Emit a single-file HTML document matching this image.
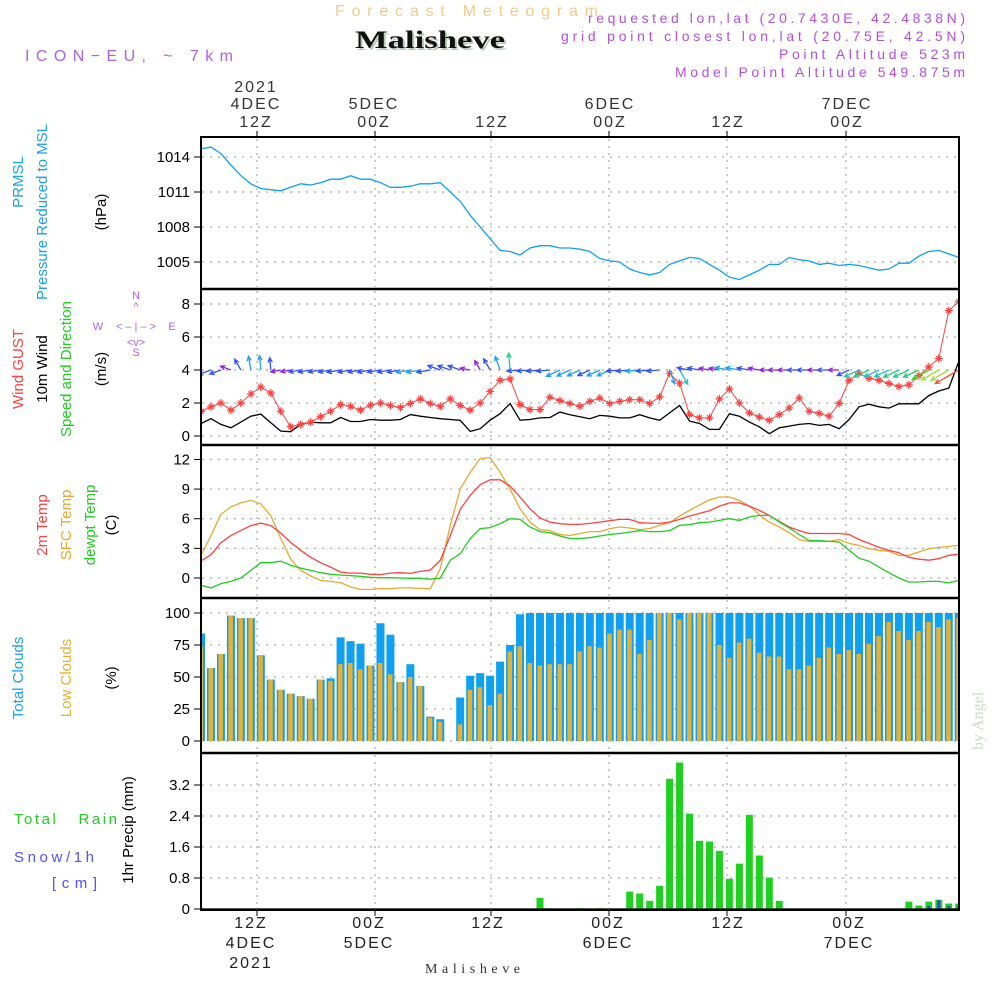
<!DOCTYPE html>
<html><head><meta charset="utf-8"><title>Meteogram Malisheve</title>
<style>
html,body{margin:0;padding:0;background:#fff;}
svg{display:block;font-family:"Liberation Sans",sans-serif;}
</style></head>
<body>
<svg id="chart" width="1000" height="1000" viewBox="0 0 1000 1000" xmlns="http://www.w3.org/2000/svg">
<defs>
<clipPath id="clipAll"><rect x="201" y="137" width="758" height="773"/></clipPath>
</defs>
<rect x="0" y="0" width="1000" height="1000" fill="#fff"/>
<text x="335" y="16" textLength="263" lengthAdjust="spacing" font-size="16" fill="#f2c98a">Forecast Meteogram</text>
<text x="357" y="50" textLength="150" lengthAdjust="spacingAndGlyphs" font-size="25" font-weight="bold" font-family="Liberation Serif, serif" fill="#b8cbb8">Malisheve</text>
<text x="355" y="48" textLength="150" lengthAdjust="spacingAndGlyphs" font-size="25" font-weight="bold" font-family="Liberation Serif, serif" fill="#111">Malisheve</text>
<text x="25" y="61" textLength="208" lengthAdjust="spacing" font-size="16" fill="#b060e8">ICON−EU, ~ 7km</text>
<g font-size="14" fill="#b050e0">
<text x="588" y="23" textLength="377" lengthAdjust="spacing">requested lon,lat (20.7430E, 42.4838N)</text>
<text x="561" y="41" textLength="404" lengthAdjust="spacing">grid point closest lon,lat (20.75E, 42.5N)</text>
<text x="779" y="59" textLength="186" lengthAdjust="spacing">Point Altitude 523m</text>
<text x="675" y="77" textLength="290" lengthAdjust="spacing">Model Point Altitude 549.875m</text>
</g>
<g font-size="16" fill="#333" text-anchor="middle" letter-spacing="2">
<text x="256" y="92">2021</text><text x="256" y="109">4DEC</text><text x="256" y="127">12Z</text>
<text x="374" y="109">5DEC</text><text x="374" y="127">00Z</text>
<text x="492" y="127">12Z</text>
<text x="610" y="109">6DEC</text><text x="610" y="127">00Z</text>
<text x="728" y="127">12Z</text>
<text x="847" y="109">7DEC</text><text x="847" y="127">00Z</text>
</g>
<g font-size="16" fill="#222" text-anchor="middle" letter-spacing="2">
<text x="251" y="928">12Z</text><text x="251" y="948">4DEC</text><text x="251" y="968">2021</text>
<text x="369" y="928">00Z</text><text x="369" y="948">5DEC</text>
<text x="488" y="928">12Z</text>
<text x="608" y="928">00Z</text><text x="608" y="948">6DEC</text>
<text x="728" y="928">12Z</text>
<text x="849" y="928">00Z</text><text x="849" y="948">7DEC</text>
</g>
<text x="425" y="973" textLength="95" lengthAdjust="spacing" font-size="14" font-family="Liberation Serif, serif" fill="#333">Malisheve</text>
<text transform="translate(983,750) rotate(-90)" font-size="16" font-family="Liberation Serif, serif" fill="#ccd8cc">by Angel</text>

<g font-size="15">
<text transform="translate(23,182) rotate(-90)" text-anchor="middle" fill="#1aa0f0">PRMSL</text>
<text transform="translate(47,212) rotate(-90)" text-anchor="middle" fill="#1aa0f0">Pressure Reduced to MSL</text>
<text transform="translate(106,212) rotate(-90)" text-anchor="middle" fill="#000">(hPa)</text>
<text transform="translate(23,369) rotate(-90)" text-anchor="middle" fill="#ff4040">Wind GUST</text>
<text transform="translate(47,369) rotate(-90)" text-anchor="middle" fill="#000">10m Wind</text>
<text transform="translate(71,369) rotate(-90)" text-anchor="middle" fill="#22cc22">Speed and Direction</text>
<text transform="translate(106,369) rotate(-90)" text-anchor="middle" fill="#000">(m/s)</text>
<g font-size="11" fill="#b060e8" text-anchor="middle">
<text x="136" y="299">N</text><text x="136" y="310">^</text><text x="136" y="330">&lt; – | – &gt;</text>
<text x="98" y="330">W</text><text x="172" y="330">E</text><text x="136" y="346">&lt;v&gt;</text><text x="136" y="356">S</text>
</g>
<text transform="translate(47,525) rotate(-90)" text-anchor="middle" fill="#ff4040">2m Temp</text>
<text transform="translate(71,525) rotate(-90)" text-anchor="middle" fill="#e8a830">SFC Temp</text>
<text transform="translate(95,525) rotate(-90)" text-anchor="middle" fill="#22cc22">dewpt Temp</text>
<text transform="translate(116,525) rotate(-90)" text-anchor="middle" fill="#000">(C)</text>
<text transform="translate(23,678) rotate(-90)" text-anchor="middle" fill="#1aa0f0">Total Clouds</text>
<text transform="translate(71,678) rotate(-90)" text-anchor="middle" fill="#e8b030">Low Clouds</text>
<text transform="translate(116,678) rotate(-90)" text-anchor="middle" fill="#000">(%)</text>
<text x="14" y="824" textLength="103" lengthAdjust="spacing" fill="#22cc22">Total&#160;&#160; Rain</text>
<text x="14" y="862" textLength="80" lengthAdjust="spacing" fill="#5050ff">Snow/1h</text>
<text x="52" y="888" textLength="45" lengthAdjust="spacing" fill="#5050ff">[cm]</text>
<text transform="translate(133,830) rotate(-90)" text-anchor="middle" fill="#000">1hr Precip (mm)</text>
</g>

<g id="grid"></g>
<g id="marks" clip-path="url(#clipAll)"></g>
<g id="frames"></g>
<g id="ticks" font-size="15" fill="#000" text-anchor="end"></g>
</svg>
<script>
const pressure=[1014.7,1014.85,1014.3,1013.3,1012.4,1011.7,1011.3,1011.2,1011.1,1011.4,1011.7,1011.6,1011.8,1012.1,1012.1,1012.4,1012.1,1012.1,1011.8,1011.4,1011.4,1011.5,1011.7,1011.7,1011.8,1011.0,1010.2,1009.0,1008.0,1007.0,1006.0,1005.9,1005.6,1006.2,1006.4,1006.4,1006.2,1006.2,1006.1,1005.9,1005.3,1005.1,1005.0,1004.4,1004.1,1003.9,1004.1,1004.8,1005.1,1005.4,1005.3,1004.8,1004.3,1003.7,1003.5,1003.9,1004.3,1004.8,1004.8,1005.4,1005.2,1005.1,1004.8,1004.9,1004.7,1004.8,1004.7,1004.5,1004.3,1004.4,1004.9,1004.9,1005.5,1005.9,1006.0,1005.7,1005.4];
const gust=[1.5,1.77,2.0,1.57,2.0,2.55,2.97,2.6,1.5,0.56,0.7,0.84,1.17,1.5,1.9,1.8,1.57,1.87,2.0,1.85,1.73,1.97,2.25,1.97,1.8,2.25,1.85,1.57,2.0,2.7,3.38,3.46,1.9,1.6,1.6,2.35,2.15,1.97,1.8,2.1,2.3,1.97,2.1,2.2,2.2,1.97,2.37,3.8,3.2,1.3,1.1,1.1,2.25,2.85,2.0,1.4,1.15,0.95,1.3,1.7,2.3,1.5,1.37,1.2,1.97,3.38,3.8,3.5,3.38,3.18,3.0,3.1,3.66,4.18,4.7,7.6,8.14];
const wind=[0.76,1.05,0.7,0.5,0.84,1.2,1.33,0.8,0.3,0.26,0.7,0.84,0.8,0.8,1.12,0.88,0.88,1.0,0.96,0.96,1.0,1.3,1.2,1.12,1.05,1.0,0.95,0.28,0.44,0.96,1.35,1.97,0.96,1.0,1.1,1.12,1.45,1.29,1.17,1.05,1.25,1.2,1.1,1.1,1.29,1.1,0.95,1.4,1.85,0.9,0.76,0.4,0.4,1.35,1.2,0.84,0.56,0.14,0.5,0.6,0.7,0.76,0.64,0.7,0.44,1.0,1.77,1.93,1.77,1.69,1.95,1.95,1.95,2.45,2.73,2.9,4.5];
const windDir=[160,160,160,200,240,260,265,265,170,170,170,170,170,170,170,170,170,170,170,170,170,170,170,170,200,200,200,190,240,240,250,265,175,175,175,175,155,155,155,155,155,155,175,175,175,175,175,70,60,190,190,190,190,190,190,190,190,180,180,180,180,180,180,180,180,155,155,155,155,155,155,155,155,150,150,150,150];
const temp2m=[1.72,2.36,3.57,4.3,4.8,5.3,5.56,5.3,4.55,3.6,2.8,2.1,1.55,1.1,0.6,0.5,0.5,0.37,0.34,0.5,0.54,0.47,0.67,0.8,1.8,4.3,6.94,8.36,9.44,9.94,9.94,9.3,8.2,7.0,6.07,5.66,5.5,5.43,5.43,5.53,5.66,5.8,5.93,5.93,5.6,5.56,5.53,5.66,5.93,6.27,6.54,6.8,7.28,7.6,7.6,7.28,6.84,6.34,5.73,5.16,4.8,4.5,4.5,4.5,4.5,4.4,3.9,3.5,3.1,2.8,2.56,2.1,1.9,1.8,1.95,2.3,2.4];
const tempSfc=[2.3,4.3,6.44,7.2,7.6,7.85,7.5,6.3,4.0,1.9,0.77,0.2,-0.24,-0.34,-0.47,-0.9,-1.15,-1.15,-1.08,-1.08,-1.0,-1.0,-1.05,-1.08,0.94,5.33,9.0,10.7,12.1,12.2,10.7,9.0,7.0,5.66,4.9,4.8,4.4,4.3,4.5,4.7,4.7,5.0,5.16,5.06,4.9,5.0,5.33,5.6,6.27,6.84,7.4,7.9,8.2,8.2,7.85,7.28,6.4,5.66,5.16,4.6,3.9,3.7,3.7,3.7,3.9,3.5,3.3,2.97,2.8,2.7,2.3,2.3,2.63,2.97,3.1,3.2,3.3];
const dewpt=[-0.74,-1.0,-0.57,-0.34,0,0.77,1.55,1.55,1.7,1.3,1.0,0.77,0.54,0.37,0.3,0.24,0.17,0.07,0.03,0.03,0,-0.03,-0.03,-0.13,0,1.8,2.46,4.0,5.0,5.1,5.5,6.0,5.93,5.16,4.7,4.58,4.25,4.0,4.0,4.08,4.25,4.4,4.5,4.65,4.8,4.7,4.7,4.8,5.33,5.4,5.6,5.66,5.83,6.0,5.83,6.17,6.34,6.34,5.66,5.06,4.4,3.8,3.8,3.7,3.64,2.8,2.0,1.7,1.1,0.54,0,-0.4,-0.4,-0.34,-0.34,-0.5,-0.24];
const totalClouds=[84,57,68,98,96,96,67,48,40,37,35,33,48,49,81,78,76,59,92,83,46,60,43,19,17,0,34,51,53,51,62,75,99,100,100,100,100,100,100,100,100,100,100,100,100,100,100,100,100,100,100,100,100,100,100,100,100,100,100,100,100,100,100,100,100,100,100,100,100,100,100,100,100,100,100,100,100];
const lowClouds=[74,57,68,98,96,96,67,48,40,37,35,33,48,47,60,61,56,59,61,52,46,50,43,18,15,0,13,40,42,28,37,70,74,61,59,60,60,60,70,74,73,84,87,87,68,79,100,100,95,100,100,100,75,65,77,80,69,66,66,56,56,59,65,73,68,71,68,76,82,93,86,79,86,93,89,95,96];
const precip=[0,0,0,0,0,0,0,0,0,0,0,0,0,0,0,0,0,0,0,0,0,0,0,0,0,0,0,0,0,0,0,0,0,0,0.29,0.02,0,0,0.02,0,0.02,0,0,0.45,0.40,0.21,0.60,3.36,3.78,2.46,1.76,1.74,1.50,0.78,1.17,2.43,1.38,0.81,0.21,0,0,0,0,0,0,0,0,0,0,0,0,0.19,0.09,0.19,0.24,0.14,0.14];
const snow=[0,0,0,0,0,0,0,0,0,0,0,0,0,0,0,0,0,0,0,0,0,0,0,0,0,0,0,0,0,0,0,0,0,0,0,0,0,0,0,0,0,0,0,0,0,0,0,0,0,0,0,0,0,0,0,0,0,0,0,0,0,0,0,0,0,0,0,0,0,0,0,0,0,0.05,0.2,0.05,0.05];
const pTicks=["1014","1011","1008","1005"];
const wTicks=["0","2","4","6","8"];
const tTicks=["0","3","6","9","12"];
const cTicks=["0","25","50","75","100"];
const rTicks=["0","0.8","1.6","2.4","3.2"];
const timeGrid=[257,375,491,609,727,846];

const NS="http://www.w3.org/2000/svg";
function el(tag,attrs,parent){const e=document.createElementNS(NS,tag);for(const k in attrs)e.setAttribute(k,attrs[k]);parent.appendChild(e);return e;}
const xS=i=>201+i*9.97;
const panels={
 p:{top:137,bot:289,y:v=>157+(1014-v)*11.67},
 w:{top:289,bot:445,y:v=>436-v*16.5},
 t:{top:445,bot:598,y:v=>578-v*9.88},
 c:{top:598,bot:753,y:v=>741-v*1.28},
 r:{top:753,bot:910,y:v=>909-v*38.75}
};
const grid=document.getElementById('grid'),marks=document.getElementById('marks'),frames=document.getElementById('frames'),ticks=document.getElementById('ticks');
function addGrid(p,tl){
 timeGrid.forEach(x=>{const l=el('line',{x1:x,x2:x,y1:p.top+2,y2:p.bot-2,stroke:'#aaa','stroke-width':1.2,'stroke-dasharray':'2,5'},grid);
 });
 tl.forEach(t=>{const v=parseFloat(t),y=p.y(v);
  const l=el('line',{x1:202,x2:958,y1:y,y2:y,stroke:'#aaa','stroke-width':1.2,'stroke-dasharray':'2,6'},grid);
  
  const tk=el('line',{x1:194,x2:201,y1:y,y2:y,stroke:'#000','stroke-width':1},frames);
  
  const tx=el('text',{x:190,y:y+5},ticks);tx.textContent=t;
  });
}
addGrid(panels.p,pTicks);addGrid(panels.w,wTicks);addGrid(panels.t,tTicks);addGrid(panels.c,cTicks);addGrid(panels.r,rTicks);
const fr=el('rect',{x:201,y:137,width:758,height:773,fill:'none',stroke:'#000','stroke-width':2},frames);

[289,445,598,753].forEach(y=>{const l=el('line',{x1:200,x2:960,y1:y,y2:y,stroke:'#000','stroke-width':2.5},frames);
 });
timeGrid.forEach(x=>{const a=el('line',{x1:x,x2:x,y1:131,y2:137,stroke:'#000'},frames);
 const b=el('line',{x1:x,x2:x,y1:910,y2:916,stroke:'#000'},frames);});

function line(arr,p,color,name,w){
 const d=arr.map((v,i)=>(i?'L':'M')+xS(i).toFixed(1)+','+p.y(v).toFixed(1)).join('');
 const e=el('path',{d:d,fill:'none',stroke:color,'stroke-width':w||1.2},marks);
 
}
totalClouds.forEach((v,i)=>{const y=panels.c.y(v);const r=el('rect',{x:xS(i)-4,y:y,width:8,height:panels.c.y(0)-y,fill:'#10a0f0'},marks);
 });
lowClouds.forEach((v,i)=>{const y=panels.c.y(v);const r=el('rect',{x:xS(i)-2.5,y:y,width:4.5,height:panels.c.y(0)-y,fill:'#e8b030'},marks);
 });
precip.forEach((v,i)=>{if(v<=0)return;const y=panels.r.y(v);const r=el('rect',{x:xS(i)-3.5,y:y,width:7,height:panels.r.y(0)-y,fill:'#20d020'},marks);
 });
snow.forEach((v,i)=>{if(v<=0)return;const y=panels.r.y(v);const r=el('rect',{x:xS(i)-1.5,y:y-1,width:3,height:panels.r.y(0)-y+1,fill:'#3040ff'},marks);
 });
const zl=el('line',{x1:201,x2:959,y1:909,y2:909,stroke:'#222','stroke-width':1.5},marks);

line(pressure,panels.p,'#10a0f0','pressure-line',1.3);
line(wind,panels.w,'#000','wind-speed-line',1.3);
line(gust,panels.w,'#ff4040','gust-line',1);
gust.forEach((v,i)=>{const x=xS(i),y=panels.w.y(v);
 const g=el('path',{d:`M${x-4},${y}H${x+4}M${x},${y-4}V${y+4}M${x-2.5},${y-2.5}L${x+2.5},${y+2.5}M${x-2.5},${y+2.5}L${x+2.5},${y-2.5}`,stroke:'#ff4040','stroke-width':1.2,fill:'none'},marks);
 });
function wcol(s){if(s<0.7)return'#9020e0';if(s<1.15)return'#3050ff';if(s<1.5)return'#20a0f0';if(s<1.9)return'#20c0c0';if(s<2.2)return'#20d080';if(s<2.6)return'#40d020';if(s<3)return'#a0e040';return'#ff5030';}
windDir.forEach((a,i)=>{const x=xS(i),y=panels.w.y(4);const s=wind[i];const L=9+s*4;
 const r=a*Math.PI/180,ex=x+L*Math.cos(r),ey=y+L*Math.sin(r);
 const h1=r+Math.PI-0.45,h2=r+Math.PI+0.45;
 const d=`M${x.toFixed(1)},${y.toFixed(1)}L${ex.toFixed(1)},${ey.toFixed(1)}M${(ex+5*Math.cos(h1)).toFixed(1)},${(ey+5*Math.sin(h1)).toFixed(1)}L${ex.toFixed(1)},${ey.toFixed(1)}L${(ex+5*Math.cos(h2)).toFixed(1)},${(ey+5*Math.sin(h2)).toFixed(1)}`;
 const g=el('path',{d:d,stroke:wcol(s),'stroke-width':1.3,fill:'none'},marks);
 });
line(tempSfc,panels.t,'#e8a830','sfc-temp-line',1.3);
line(temp2m,panels.t,'#ff4040','temp-2m-line',1.3);
line(dewpt,panels.t,'#20cc20','dewpoint-line',1.3);
</script>
</body></html>
